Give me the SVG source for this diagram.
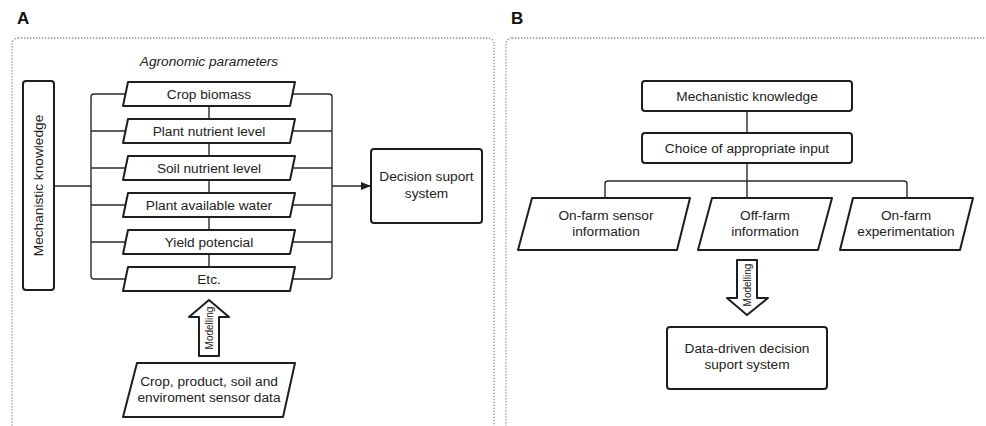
<svg xmlns="http://www.w3.org/2000/svg" width="986" height="426" viewBox="0 0 986 426">
<defs>
<style>
.frame{fill:none;stroke:#8a8a8a;stroke-width:1.3;stroke-dasharray:1.3 1.7}
.box{fill:#fff;stroke:#1e1e1e;stroke-width:2;stroke-linejoin:round}
.conn{fill:none;stroke:#2a2a2a;stroke-width:1.4}
.t{font-family:"Liberation Sans",Arial,sans-serif;font-size:13.7px;fill:#222;text-anchor:middle}
.small{font-size:10px}
.lbl{font-family:"Liberation Sans",Arial,sans-serif;font-size:17px;font-weight:bold;fill:#111}
</style>
<marker id="ah" markerWidth="10" markerHeight="8" refX="9" refY="4" orient="auto" markerUnits="userSpaceOnUse">
<path d="M0,0 L10,4 L0,8 Z" fill="#1e1e1e"/>
</marker>
</defs>
<rect width="986" height="426" fill="#fff"/>
<text class="lbl" x="17" y="24">A</text>
<text class="lbl" x="511" y="24">B</text>
<rect class="frame" x="12" y="38" width="482" height="400" rx="6"/>
<rect class="frame" x="506" y="38" width="490" height="400" rx="6"/>

<g id="connectors">
<path class="conn" d="M54,186 H91"/>
<path class="conn" d="M125,94 H94 Q91,94 91,97 V276 Q91,279 94,279 H125"/>
<path class="conn" d="M91,131 H125 M91,168 H125 M91,205 H125 M91,242 H125"/>
<path class="conn" d="M293,94 H329 Q332,94 332,97 V276 Q332,279 329,279 H293"/>
<path class="conn" d="M293,131 H332 M293,168 H332 M293,205 H332 M293,242 H332"/>
<path class="conn" d="M332,186 H370" marker-end="url(#ah)"/>
<path class="conn" d="M209,106 V119 M209,143 V156 M209,180 V193 M209,217 V230 M209,254 V267"/>
<path class="conn" d="M747,111 V133 M747,163 V198"/>
<path class="conn" d="M605,198 V184 Q605,181 608,181 H904 Q907,181 907,184 V198"/>
</g>

<g id="agro-title"><text class="t" x="209" y="66" font-style="italic">Agronomic parameters</text></g>

<g id="mech-a">
<rect class="box" x="23" y="81" width="31" height="209" rx="3"/>
<text class="t" transform="translate(43,185.5) rotate(-90)">Mechanistic knowledge</text>
</g>

<g id="p1"><path class="box" d="M128,82 H295 L290,106 H123 Z"/><text class="t" x="209" y="99">Crop biomass</text></g>
<g id="p2"><path class="box" d="M128,119 H295 L290,143 H123 Z"/><text class="t" x="209" y="136">Plant nutrient level</text></g>
<g id="p3"><path class="box" d="M128,156 H295 L290,180 H123 Z"/><text class="t" x="209" y="173">Soil nutrient level</text></g>
<g id="p4"><path class="box" d="M128,193 H295 L290,217 H123 Z"/><text class="t" x="209" y="210">Plant available water</text></g>
<g id="p5"><path class="box" d="M128,230 H295 L290,254 H123 Z"/><text class="t" x="209" y="247">Yield potencial</text></g>
<g id="p6"><path class="box" d="M128,267 H295 L290,291 H123 Z"/><text class="t" x="209" y="284">Etc.</text></g>

<g id="dss-a">
<rect class="box" x="371" y="149" width="111" height="74" rx="3"/>
<text class="t" x="426.5" y="181">Decision suport</text>
<text class="t" x="426.5" y="198">system</text>
</g>

<g id="model-a">
<path class="box" d="M199,356 V317 H189 L209,300 L229,317 H219 V356 Z"/>
<text class="t small" transform="translate(212.5,328) rotate(-90)">Modelling</text>
</g>

<g id="sensor-a">
<path class="box" d="M137,363 H295 L283,417 H123 Z"/>
<text class="t" x="209" y="386">Crop, product, soil and</text>
<text class="t" x="209" y="402">enviroment sensor data</text>
</g>

<g id="mech-b">
<rect class="box" x="642" y="81" width="210" height="30" rx="3"/>
<text class="t" x="747" y="100.5">Mechanistic knowledge</text>
</g>
<g id="choice-b">
<rect class="box" x="642" y="133" width="210" height="30" rx="3"/>
<text class="t" x="747" y="152.5">Choice of appropriate input</text>
</g>
<g id="onfarm-sensor">
<path class="box" d="M532,198 H690 L677,250 H518 Z"/>
<text class="t" x="606" y="220">On-farm sensor</text>
<text class="t" x="606" y="236">information</text>
</g>
<g id="offfarm">
<path class="box" d="M712,198 H832 L818,250 H698 Z"/>
<text class="t" x="765" y="220">Off-farm</text>
<text class="t" x="765" y="236">information</text>
</g>
<g id="onfarm-exp">
<path class="box" d="M853,198 H973 L960,250 H840 Z"/>
<text class="t" x="906" y="220">On-farm</text>
<text class="t" x="906" y="236">experimentation</text>
</g>
<g id="model-b">
<path class="box" d="M737,260 H757 V298 H768 L747,315 L727,298 H737 Z"/>
<text class="t small" transform="translate(750.5,285) rotate(-90)">Modelling</text>
</g>
<g id="dss-b">
<rect class="box" x="667" y="327" width="160" height="62" rx="3"/>
<text class="t" x="747" y="353">Data-driven decision</text>
<text class="t" x="747" y="369">suport system</text>
</g>
</svg>
